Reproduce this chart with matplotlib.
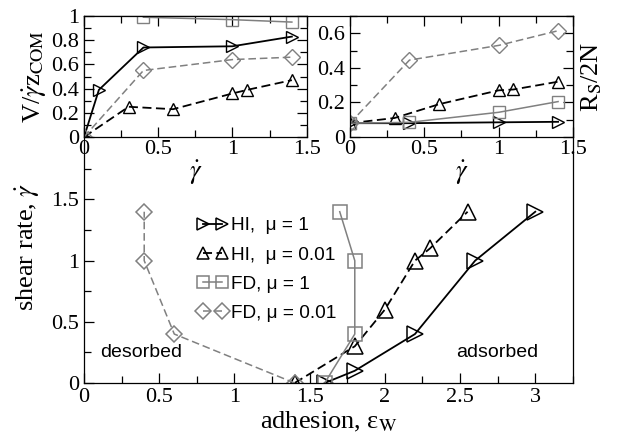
import matplotlib
matplotlib.use("Agg")
import matplotlib.pyplot as plt
from matplotlib.ticker import MultipleLocator

plt.rcParams['font.family'] = ['Liberation Serif']
plt.rcParams['mathtext.fontset'] = 'stix'

# main panel: shear rate vs adhesion (transition lines)
hi1_eps = [1.6, 1.8, 2.2, 2.6, 3.0]
hi1_gam = [0.0, 0.1, 0.4, 1.0, 1.4]
hi001_eps = [1.4, 1.8, 2.0, 2.2, 2.3, 2.55]
hi001_gam = [0.0, 0.3, 0.6, 1.0, 1.1, 1.4]
fd1_eps = [1.6, 1.8, 1.8, 1.7]
fd1_gam = [0.0, 0.4, 1.0, 1.4]
fd001_eps = [1.4, 0.6, 0.4, 0.4]
fd001_gam = [0.0, 0.4, 1.0, 1.4]

# left inset: V / (gammadot z_COM)
vl_hi1_x = [0.0, 0.1, 0.4, 1.0, 1.4]
vl_hi1_y = [0.0, 0.39, 0.74, 0.75, 0.83]
vl_hi001_x = [0.0, 0.3, 0.6, 1.0, 1.1, 1.4]
vl_hi001_y = [0.0, 0.25, 0.23, 0.36, 0.39, 0.47]
vl_fd1_x = [0.4, 1.0, 1.4]
vl_fd1_y = [0.99, 0.97, 0.95]
vl_fd001_x = [0.0, 0.4, 1.0, 1.4]
vl_fd001_y = [0.0, 0.55, 0.64, 0.66]

# right inset: R_S / 2N
rs_hi1_x = [0.0, 0.4, 1.0, 1.4]
rs_hi1_y = [0.08, 0.08, 0.085, 0.088]
rs_hi001_x = [0.0, 0.3, 0.6, 1.0, 1.1, 1.4]
rs_hi001_y = [0.08, 0.11, 0.19, 0.27, 0.275, 0.32]
rs_fd1_x = [0.0, 0.4, 1.0, 1.4]
rs_fd1_y = [0.08, 0.085, 0.143, 0.205]
rs_fd001_x = [0.0, 0.4, 1.0, 1.4]
rs_fd001_y = [0.08, 0.445, 0.53, 0.615]

labels = ["HI,  \u03bc = 1", "HI,  \u03bc = 0.01", "FD, \u03bc = 1", "FD, \u03bc = 0.01"]

gray = '#808080'
dsh = (5, 2.5)
sty = [
    dict(color='k', ls='-', lw=1.3, marker='>', mfc='none', mec='k'),
    dict(color='k', ls='--', dashes=dsh, lw=1.3, marker='^', mfc='none', mec='k'),
    dict(color=gray, ls='-', lw=1.1, marker='s', mfc='none', mec=gray),
    dict(color=gray, ls='--', dashes=dsh, lw=1.1, marker='D', mfc='none', mec=gray),
]
msz = [11, 11, 10, 8]
serif = 'Liberation Serif'
sans = 'Liberation Sans'
tfont = dict(fontfamily=serif, fontsize=16)

fig = plt.figure(figsize=(6.18, 4.44), dpi=100)

def style_ax(ax, right=True, top=True):
    ax.tick_params(which='both', direction='in', top=top, right=right)
    ax.tick_params(which='major', length=7, width=0.9)
    ax.tick_params(which='minor', length=5, width=0.9)
    for s in ax.spines.values():
        s.set_linewidth(0.9)

# main axes
ax = fig.add_axes([0.136, 0.1374, 0.791, 0.8266])
main_data = [(hi1_eps, hi1_gam), (hi001_eps, hi001_gam), (fd1_eps, fd1_gam), (fd001_eps, fd001_gam)]
for (x, y), st, ms, lab in zip(main_data, sty, msz, labels):
    ax.plot(x, y, ms=ms, mew=1.1, label=lab, **st)
ax.set_xlim(0, 3.25)
ax.set_ylim(0, 3.0)
ax.set_xticks([0, 0.5, 1, 1.5, 2, 2.5, 3])
ax.set_xticklabels(['0', '0.5', '1', '1.5', '2', '2.5', '3'], **tfont)
ax.set_yticks([0, 0.5, 1, 1.5])
ax.set_yticklabels(['0', '0.5', '1', '1.5'], **tfont)
ax.xaxis.set_minor_locator(MultipleLocator(0.25))
ax.set_yticks([0.25, 0.75, 1.25, 1.75], minor=True)
style_ax(ax, right=False, top=False)
ax.set_xlabel('adhesion, \u03b5$_{\\mathrm{W}}$', fontsize=19, labelpad=2)
ax.set_ylabel(r'shear rate, $\dot{\gamma}$', fontsize=19)
ax.yaxis.set_label_coords(-0.086, 0.37)
ax.text(0.38, 0.25, 'desorbed', family=sans, fontsize=14, ha='center', va='center')
ax.text(2.745, 0.25, 'adsorbed', family=sans, fontsize=14, ha='center', va='center')
leg = ax.legend(loc='upper left', bbox_to_anchor=(0.319, 0.511), bbox_transform=fig.transFigure,
                frameon=False, numpoints=2, handlelength=1.6, handletextpad=0.2,
                labelspacing=0.62, borderpad=0, borderaxespad=0,
                prop={'family': sans, 'size': 13.7})
for h in leg.legend_handles:
    h.set_markersize(8.5)

# left inset
ax1 = fig.add_axes([0.136, 0.6914, 0.3603, 0.2725])
inset1 = [(vl_hi1_x, vl_hi1_y), (vl_hi001_x, vl_hi001_y), (vl_fd1_x, vl_fd1_y), (vl_fd001_x, vl_fd001_y)]
for (x, y), st in zip(inset1, sty):
    ax1.plot(x, y, ms=8.5, mew=1.0, **st)
ax1.set_xlim(0, 1.5)
ax1.set_ylim(0, 1.0)
ax1.set_xticks([0, 0.5, 1, 1.5])
ax1.set_xticklabels(['0', '0.5', '1', '1.5'], **tfont)
ax1.set_yticks([0, 0.2, 0.4, 0.6, 0.8, 1.0])
ax1.set_yticklabels(['0', '0.2', '0.4', '0.6', '0.8', '1'], **tfont)
ax1.xaxis.set_minor_locator(MultipleLocator(0.25))
ax1.yaxis.set_minor_locator(MultipleLocator(0.1))
style_ax(ax1)
ax1.tick_params(axis='x', pad=2)
ax1.set_xlabel(r'$\dot{\gamma}$', fontsize=19, labelpad=0)
ax1.set_ylabel(r'V/$\dot{\gamma}$z$_{\mathrm{COM}}$', fontsize=19, labelpad=2)

# right inset
ax2 = fig.add_axes([0.5663, 0.6914, 0.3608, 0.2725])
inset2 = [(rs_hi1_x, rs_hi1_y), (rs_hi001_x, rs_hi001_y), (rs_fd1_x, rs_fd1_y), (rs_fd001_x, rs_fd001_y)]
for (x, y), st in zip(inset2, sty):
    ax2.plot(x, y, ms=8.5, mew=1.0, **st)
ax2.set_xlim(0, 1.5)
ax2.set_ylim(0, 0.7)
ax2.set_xticks([0, 0.5, 1, 1.5])
ax2.set_xticklabels(['0', '0.5', '1', '1.5'], **tfont)
ax2.set_yticks([0, 0.2, 0.4, 0.6])
ax2.set_yticklabels(['0', '0.2', '0.4', '0.6'], **tfont)
ax2.xaxis.set_minor_locator(MultipleLocator(0.25))
ax2.yaxis.set_minor_locator(MultipleLocator(0.1))
style_ax(ax2)
ax2.tick_params(axis='x', pad=2)
ax2.set_xlabel(r'$\dot{\gamma}$', fontsize=19, labelpad=0)
ax2.yaxis.set_label_position('right')
ax2.set_ylabel(r'R$_{\mathrm{S}}$/2N', fontsize=19)
ax2.yaxis.set_label_coords(1.03, 0.5)

fig.savefig('out.png', dpi=100)
